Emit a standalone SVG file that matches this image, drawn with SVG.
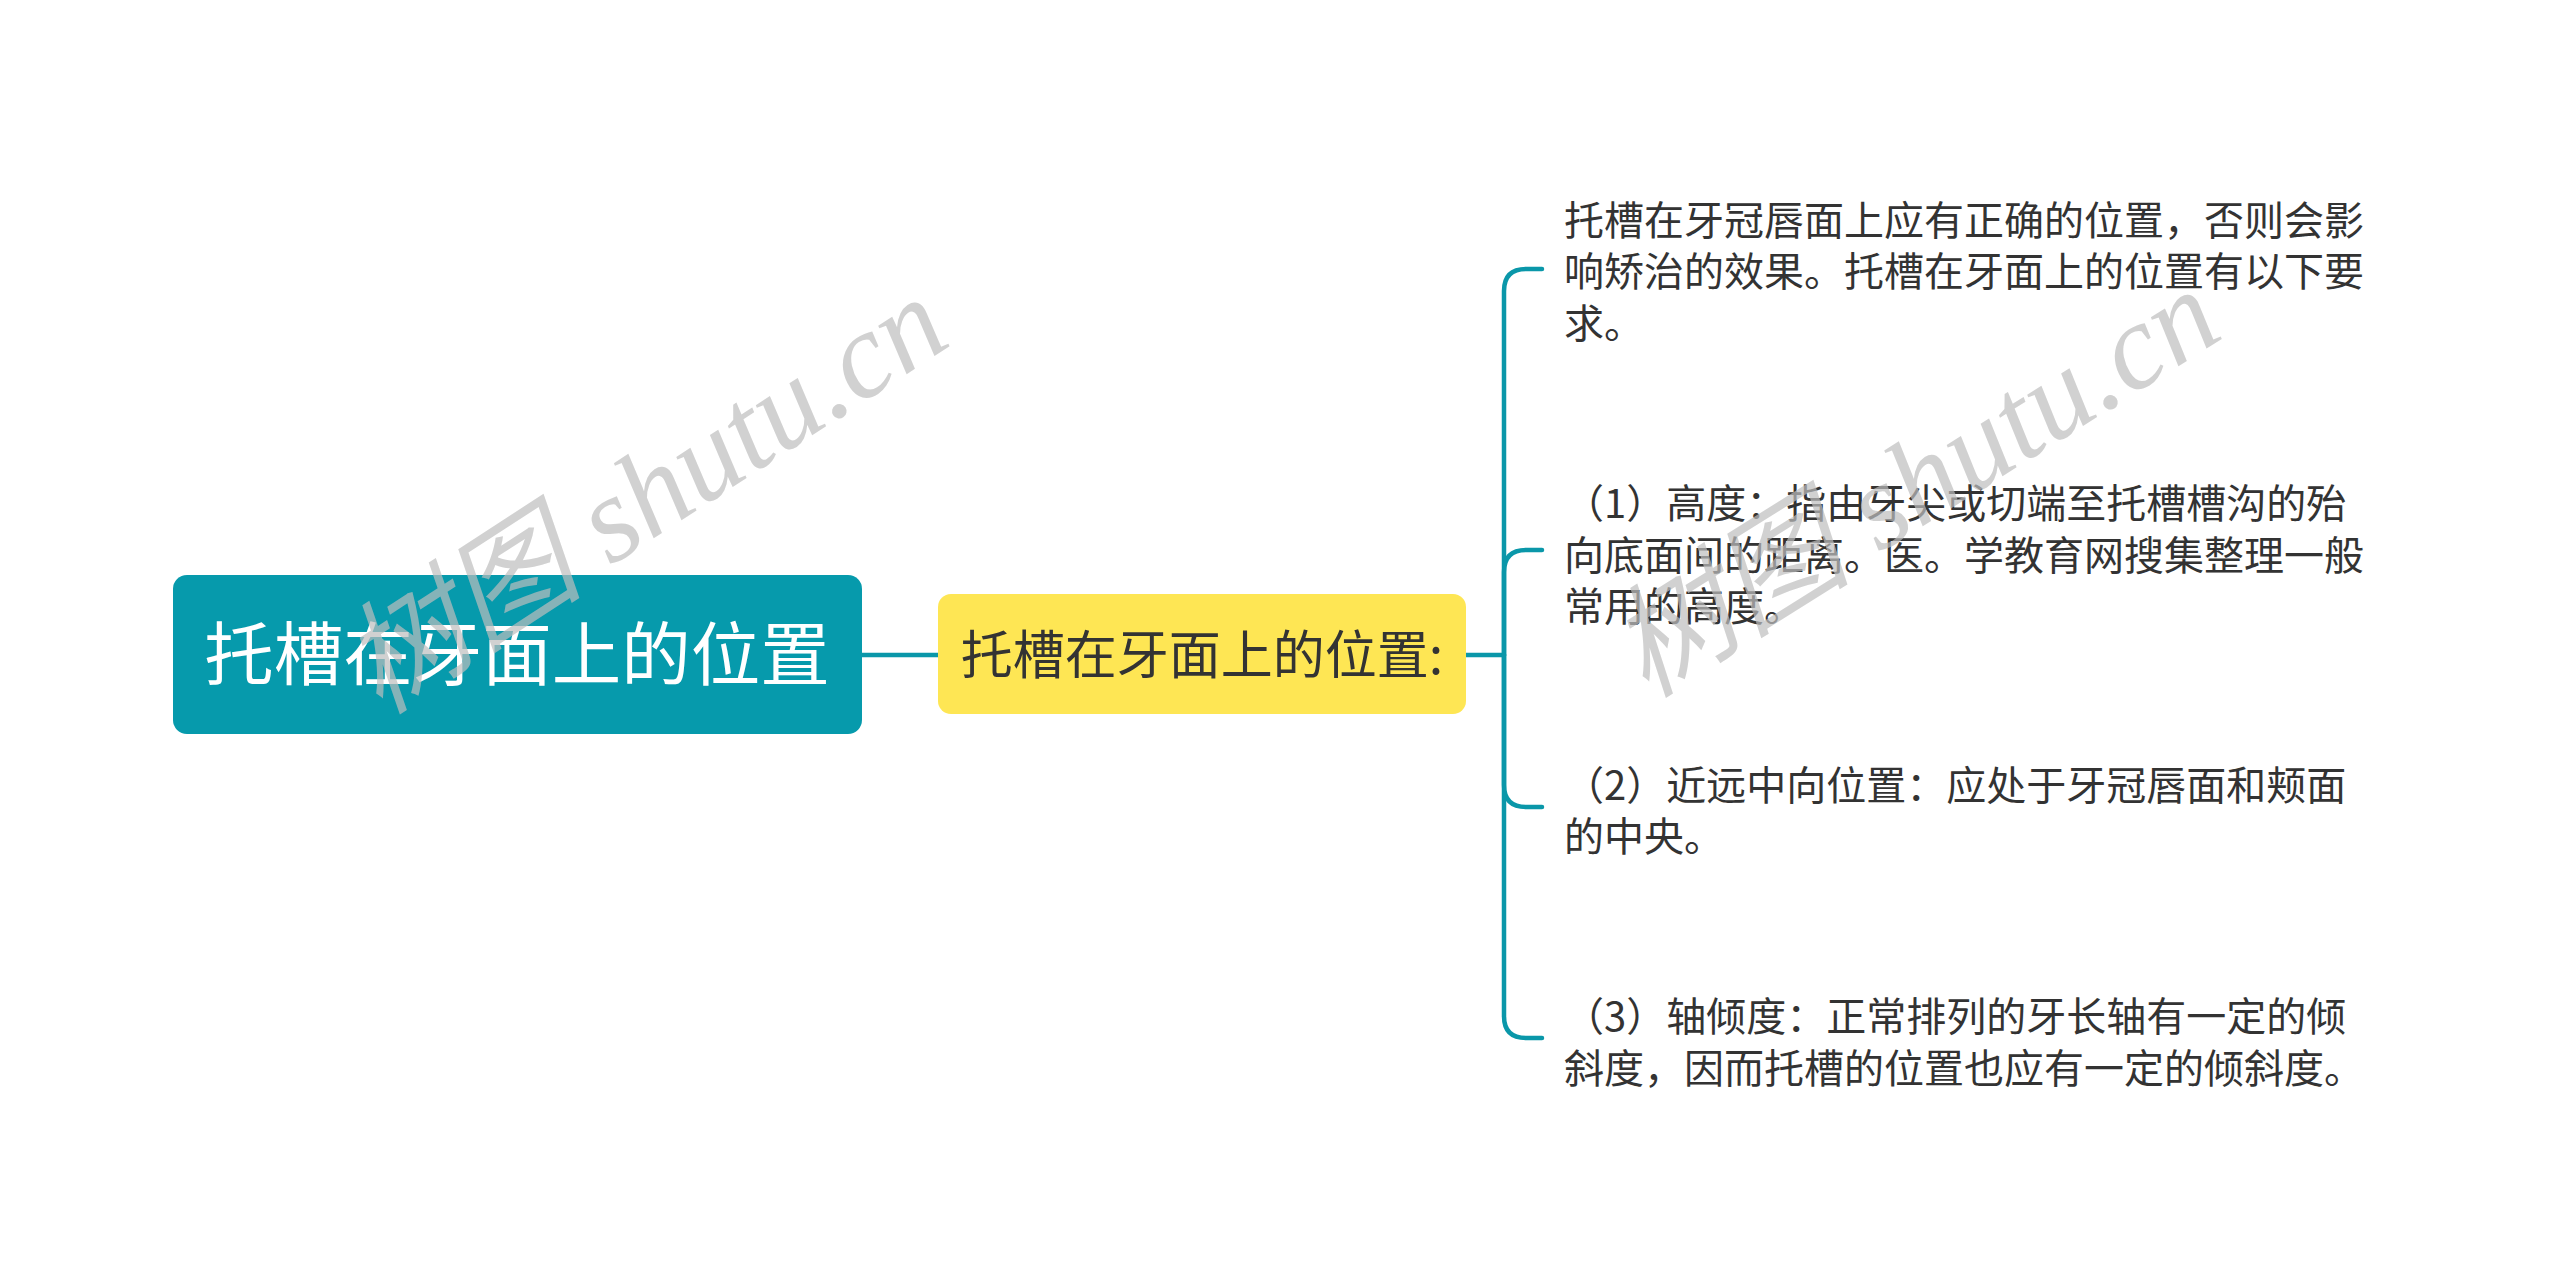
<svg xmlns="http://www.w3.org/2000/svg" width="2560" height="1283" viewBox="0 0 2560 1283">
<style>
.conn{fill:none;stroke:#0A97A9;stroke-width:4.5;stroke-linecap:round}
.txt{font-family:"Noto Sans CJK SC","Noto Sans",sans-serif;}
.leaf{font-size:40px;fill:#333333}
.wm{font-family:"Liberation Serif","Noto Sans CJK SC",serif;font-style:italic;font-size:122px;fill:#bdbdbd;fill-opacity:0.7}
</style>
<rect width="2560" height="1283" fill="#ffffff"/>
<g id="connectors">
<path class="conn" d="M862,655 H938"/>
<path class="conn" d="M1466,655 H1504"/>
<path class="conn" d="M1504,655 V291 Q1504,269 1526,269 H1542"/>
<path class="conn" d="M1504,655 V572 Q1504,550 1526,550 H1542"/>
<path class="conn" d="M1504,655 V785 Q1504,807 1526,807 H1542"/>
<path class="conn" d="M1504,655 V1016 Q1504,1038 1526,1038 H1542"/>
</g>
<g id="root">
<rect x="173" y="575" width="689" height="159" rx="14" fill="#069AAC"/>
<text class="txt" x="517" y="680" font-size="69.5" fill="#ffffff" text-anchor="middle">托槽在牙面上的位置</text>
</g>
<g id="main">
<rect x="938" y="594" width="528" height="120" rx="13" fill="#FEE654"/>
<text class="txt" x="1202" y="674" font-size="52" fill="#333333" text-anchor="middle">托槽在牙面上的位置:</text>
</g>
<g id="leaf1">
<text class="txt leaf" x="1564" y="235">托槽在牙冠唇面上应有正确的位置，否则会影</text>
<text class="txt leaf" x="1564" y="286">响矫治的效果。托槽在牙面上的位置有以下要</text>
<text class="txt leaf" x="1564" y="338">求。</text>
</g>
<g id="leaf2">
<text class="txt leaf" x="1564" y="518">（1）高度：指由牙尖或切端至托槽槽沟的殆</text>
<text class="txt leaf" x="1564" y="570">向底面间的距离。医。学教育网搜集整理一般</text>
<text class="txt leaf" x="1564" y="621">常用的高度。</text>
</g>
<g id="leaf3">
<text class="txt leaf" x="1564" y="800">（2）近远中向位置：应处于牙冠唇面和颊面</text>
<text class="txt leaf" x="1564" y="851">的中央。</text>
</g>
<g id="leaf4">
<text class="txt leaf" x="1564" y="1031">（3）轴倾度：正常排列的牙长轴有一定的倾</text>
<text class="txt leaf" x="1564" y="1083">斜度，因而托槽的位置也应有一定的倾斜度。</text>
</g>
<g id="watermarks">
<text class="wm" transform="translate(380,716) rotate(-33)">树图 shutu.cn</text>
<text class="wm" transform="translate(1646,699) rotate(-32)">树图 shutu.cn</text>
</g>
</svg>
